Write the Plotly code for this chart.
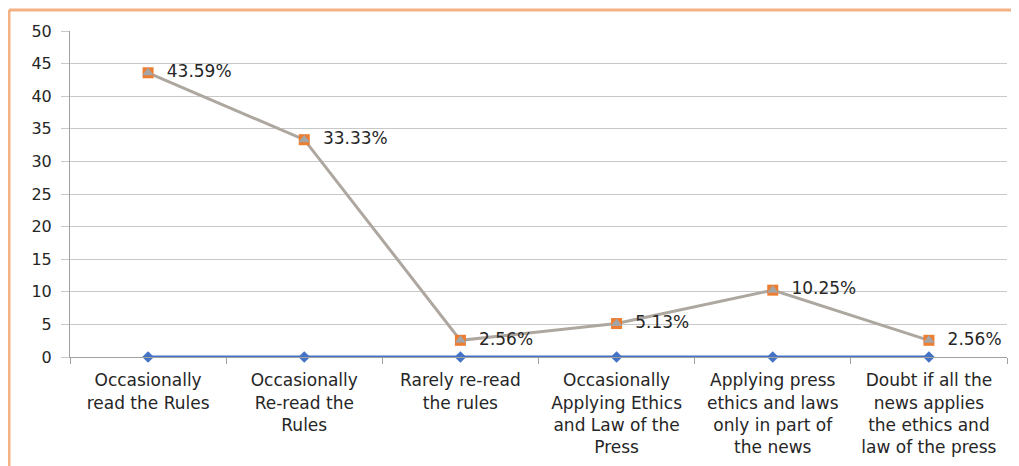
import plotly.graph_objects as go

categories = [
    "Occasionally<br>read the Rules",
    "Occasionally<br>Re-read the<br>Rules",
    "Rarely re-read<br>the rules",
    "Occasionally<br>Applying Ethics<br>and Law of the<br>Press",
    "Applying press<br>ethics and laws<br>only in part of<br>the news",
    "Doubt if all the<br>news applies<br>the ethics and<br>law of the press",
]
series_zero = [0, 0, 0, 0, 0, 0]
series_pct = [43.59, 33.33, 2.56, 5.13, 10.25, 2.56]
pct_labels = ["43.59%", "33.33%", "2.56%", "5.13%", "10.25%", "2.56%"]
y_ticks = [0, 5, 10, 15, 20, 25, 30, 35, 40, 45, 50]

FONT = "DejaVu Sans"

fig = go.Figure()
fig.add_trace(go.Scatter(
    x=categories, y=series_zero, mode="lines+markers",
    line=dict(color="#4472C4", width=3),
    marker=dict(symbol="diamond", size=9, color="#4472C4"),
    showlegend=False, cliponaxis=False,
))
fig.add_trace(go.Scatter(
    x=categories, y=series_pct, mode="lines+markers+text",
    line=dict(color="#ADA7A0", width=3),
    marker=dict(symbol="square", size=11, color="#ED7D31"),
    text=["  " + t for t in pct_labels], textposition="middle right",
    textfont=dict(family=FONT, size=17, color="#262626"),
    showlegend=False, cliponaxis=False,
))
fig.add_trace(go.Scatter(
    x=categories, y=series_pct, mode="markers",
    marker=dict(symbol="triangle-up", size=10, color="#A5A5A5"),
    showlegend=False, cliponaxis=False,
))

# page has an 8px body margin, so the figure is sized/offset for it
OFF = 8
W, H = 1019 - OFF, 466 - OFF
L, R, T, B = 70 - OFF, 12, 31 - OFF, 109
pw = W - L - R
ph = H - T - B

fig.update_layout(
    width=W, height=H,
    margin=dict(l=L, r=R, t=T, b=B, autoexpand=False),
    paper_bgcolor="white", plot_bgcolor="white",
    font=dict(family=FONT, size=15, color="#262626"),
    xaxis=dict(
        type="category", tickson="boundaries", ticks="outside", ticklen=6,
        tickcolor="#A0A0A0", showgrid=False, showline=True, linecolor="#A0A0A0",
        tickfont=dict(family=FONT, size=17, color="#262626"), tickangle=0,
        range=[-0.5, 5.5], fixedrange=True, automargin=False,
        ticklabelstandoff=8,
    ),
    yaxis=dict(
        range=[0, 50], tickvals=y_ticks, showgrid=True, gridcolor="#C8C8C8",
        gridwidth=1, showline=True, linecolor="#A0A0A0", ticks="outside",
        ticklen=8, tickcolor="#C8C8C8", zeroline=False, automargin=False,
        tickfont=dict(family=FONT, size=16, color="#262626"),
        ticklabelstandoff=6,
    ),
)

# outer orange border (top and left)
x_left = (9 - OFF - L) / pw
y_top = (H - B - (10 - OFF)) / ph
fig.add_shape(type="line", xref="paper", yref="paper",
              x0=x_left, x1=(W - L + 5) / pw, y0=y_top, y1=y_top,
              line=dict(color="#F4B183", width=3))
fig.add_shape(type="line", xref="paper", yref="paper",
              x0=x_left, x1=x_left, y0=y_top, y1=-(B + 5) / ph,
              line=dict(color="#F4B183", width=3))

fig.write_html("out.html")
